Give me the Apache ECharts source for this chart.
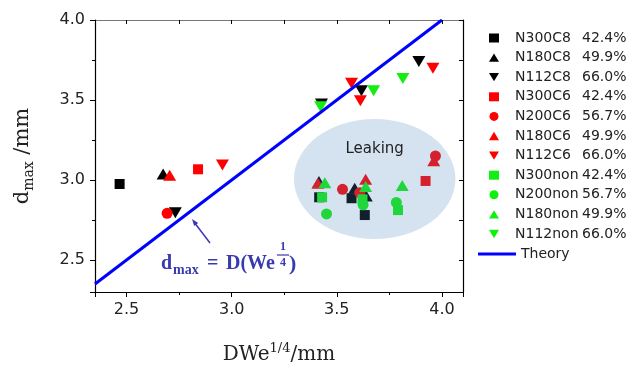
<!DOCTYPE html>
<html><head><meta charset="utf-8">
<script src="https://cdn.jsdelivr.net/npm/echarts@6/dist/echarts.min.js"></script>
<style>html,body{margin:0;padding:0;background:#fff}#c{width:633px;height:367px}</style>
</head><body><div id="c"></div>
<script>
// ---- data ----
const seriesNames = ['N300C8','N180C8','N112C8','N300C6','N200C6','N180C6','N112C6','N300non','N200non','N180non','N112non'];
const seriesPct   = ['42.4%','49.9%','66.0%','42.4%','56.7%','49.9%','66.0%','42.4%','56.7%','49.9%','66.0%'];
const n300c8  = [[2.467,2.975],[3.416,2.892],[3.570,2.886],[3.633,2.781]];
const n180c8  = [[2.674,3.037],[3.415,2.990],[3.585,2.948],[3.640,2.900]];
const n112c8  = [[2.732,2.796],[3.427,3.475],[3.617,3.558],[3.890,3.740]];
const n300c6  = [[2.840,3.067],[3.922,2.994]];
const n200c6  = [[2.693,2.792],[3.527,2.942],[3.609,2.921],[3.969,3.150]];
const n180c6  = [[2.705,3.030],[3.410,2.980],[3.637,3.004],[3.961,3.121]];
const n112c6  = [[2.956,3.094],[3.570,3.604],[3.612,3.496],[3.957,3.698]];
const n300non = [[3.430,2.892],[3.622,2.879],[3.791,2.812]];
const n200non = [[3.451,2.788],[3.625,2.845],[3.783,2.860]];
const n180non = [[3.443,2.983],[3.637,2.960],[3.811,2.965]];
const n112non = [[3.423,3.458],[3.675,3.558],[3.814,3.635]];
const theory  = [[2.35,2.35],[4.0,4.0]];
const xTicks = [2.5,3.0,3.5,4.0];
const yTicks = [2.5,3.0,3.5,4.0];
const leakCenter = [[3.68,3.006]];
const leakRadius = [0.384,0.375];

const seriesData = [n300c8,n180c8,n112c8,n300c6,n200c6,n180c6,n112c6,n300non,n200non,n180non,n112non];
const BLACK='#000000', RED='#ff0000', GREEN='#11ee11';
const seriesColor = [BLACK,BLACK,BLACK,RED,RED,RED,RED,GREEN,GREEN,GREEN,GREEN];
const seriesSym = ['rect','triangle','down','rect','circle','triangle','down','rect','circle','triangle','down'];
const DOWN_PATH = 'path://M0,0L12,0L6,10Z';
const UP_PATH = 'path://M6,0L12,10L0,10Z';

const chart = echarts.init(document.getElementById('c'));
const sans = 'DejaVu Sans', serif = 'DejaVu Serif';
const TXT = '#222';

const scatter = seriesData.map((d,i)=>{
  const s = seriesSym[i];
  return {
    name: seriesNames[i], type:'scatter', data:d, z:2,
    symbol: s==='down' ? DOWN_PATH : (s==='triangle' ? UP_PATH : s),
    symbolKeepAspect:false,
    symbolSize: s==='rect' ? 10 : (s==='circle' ? 11 : [13,11]),
    itemStyle:{color:seriesColor[i], opacity:1}
  };
});

const legendIcons = seriesSym.map(s => s==='down' ? DOWN_PATH : (s==='triangle' ? UP_PATH : s));

const baseAxis = {
  axisLine:{show:true, onZero:false, lineStyle:{color:'#000', width:1.2}},
  splitLine:{show:false}
};

const option = {
  animation:false,
  grid:{left:95, top:20, width:368, height:272, containLabel:false, outerBoundsMode:'none'},
  xAxis:[
    Object.assign({}, baseAxis, {type:'value', min:2.35, max:4.1, splitNumber:3, position:'bottom',
      axisTick:{show:true, length:5, lineStyle:{color:'#000', width:1}},
      minorTick:{show:true, splitNumber:2, length:3, lineStyle:{color:'#000', width:1}},
      axisLabel:{customValues:xTicks, formatter:v=>v.toFixed(1), margin:10, fontFamily:sans, fontSize:16, color:TXT},
      name:'{a|DWe}{s|1/4}{a|/mm}', nameLocation:'middle', nameGap:50,
      nameTextStyle:{rich:{a:{fontFamily:serif, fontSize:20, color:TXT, lineHeight:26}, s:{fontFamily:serif, fontSize:13, color:TXT, lineHeight:13, verticalAlign:'top'}}}
    }),
    Object.assign({}, baseAxis, {type:'value', min:2.35, max:4.1, splitNumber:3, position:'top',
      axisLine:{show:true, onZero:false, lineStyle:{color:'#777', width:1.2}},
      axisTick:{show:true, inside:true, length:4, lineStyle:{color:'#000', width:1}},
      minorTick:{show:true, splitNumber:2, length:4, lineStyle:{color:'#000', width:1}},
      axisLabel:{show:false}
    })
  ],
  yAxis:[
    Object.assign({}, baseAxis, {type:'value', min:2.3, max:4.0, splitNumber:3, position:'left',
      axisTick:{show:true, length:5, lineStyle:{color:'#000', width:1}},
      minorTick:{show:true, splitNumber:2, length:3, lineStyle:{color:'#000', width:1}},
      axisLabel:{customValues:yTicks, formatter:v=>v.toFixed(1), margin:10, fontFamily:sans, fontSize:16, color:TXT},
      name:'{a|d}{s|max}{a| /mm}', nameLocation:'middle', nameGap:59, nameRotate:90,
      nameTextStyle:{rich:{a:{fontFamily:serif, fontSize:21, color:TXT, lineHeight:26}, s:{fontFamily:serif, fontSize:14, color:TXT, lineHeight:14, verticalAlign:'bottom'}}}
    }),
    Object.assign({}, baseAxis, {type:'value', min:2.3, max:4.0, splitNumber:3, position:'right',
      axisTick:{show:true, inside:true, length:4, lineStyle:{color:'#000', width:1}},
      minorTick:{show:true, splitNumber:2, length:4, lineStyle:{color:'#000', width:1}},
      axisLabel:{show:false}
    })
  ],
  legend:[
    {data:seriesNames.map((n,i)=>({name:n, icon:legendIcons[i]})), orient:'vertical', left:484, top:26, itemWidth:10, itemHeight:9, itemGap:5.6,
     formatter: name => '{s| }{a|' + name + '}{b|' + seriesPct[seriesNames.indexOf(name)] + '}',
     textStyle:{fontFamily:sans, fontSize:14, color:TXT, lineHeight:14,
       rich:{s:{width:11}, a:{width:67, fontFamily:sans, fontSize:14, color:TXT}, b:{fontFamily:sans, fontSize:14, color:TXT}}}},
    {data:[{name:'Theory', icon:'rect'}], orient:'vertical', left:473, top:242, itemWidth:38, itemHeight:3,
     textStyle:{fontFamily:sans, fontSize:14, color:TXT, lineHeight:14}}
  ],
  series: [
    {name:'Theory', type:'line', data:theory, showSymbol:false, symbol:'none', z:3,
     lineStyle:{color:'#0000ff', width:3}, itemStyle:{color:'#0000ff'}}
  ].concat(scatter).concat([
    {name:'Leaking', type:'custom', data:leakCenter, z:10, silent:true,
     renderItem:(params, api)=>{
       const c = api.coord([api.value(0), api.value(1)]);
       const s = api.size([leakRadius[0], leakRadius[1]]);
       return {type:'group', children:[
         {type:'ellipse', shape:{cx:c[0], cy:c[1], rx:s[0], ry:s[1]}, style:{fill:'rgba(77,136,196,0.235)'}},
         {type:'text', x:c[0], y:c[1]-30, style:{text:'Leaking', align:'center', verticalAlign:'middle', fontFamily:sans, fontSize:15, fill:TXT}}
       ]};
     }}
  ]),
  graphic:[
    {type:'text', x:161, y:264, style:{text:'d', fontFamily:'Liberation Serif', fontWeight:'bold', fontSize:20, fill:'#3a3ab0', verticalAlign:'middle'}},
    {type:'text', x:173, y:270, style:{text:'max', fontFamily:'Liberation Serif', fontWeight:'bold', fontSize:14, fill:'#3a3ab0', verticalAlign:'middle'}},
    {type:'text', x:207, y:264, style:{text:'=', fontFamily:'Liberation Serif', fontWeight:'bold', fontSize:20, fill:'#3a3ab0', verticalAlign:'middle'}},
    {type:'text', x:226, y:264, style:{text:'D(We', fontFamily:'Liberation Serif', fontWeight:'bold', fontSize:20, fill:'#3a3ab0', verticalAlign:'middle'}},
    {type:'text', x:283, y:247, style:{text:'1', fontFamily:'Liberation Serif', fontWeight:'bold', fontSize:12, fill:'#3a3ab0', align:'center', verticalAlign:'middle'}},
    {type:'line', shape:{x1:277, y1:255, x2:289, y2:255}, style:{stroke:'#3a3ab0', lineWidth:1.2}},
    {type:'text', x:283, y:263, style:{text:'4', fontFamily:'Liberation Serif', fontWeight:'bold', fontSize:12, fill:'#3a3ab0', align:'center', verticalAlign:'middle'}},
    {type:'text', x:289, y:264, style:{text:')', fontFamily:'Liberation Serif', fontWeight:'bold', fontSize:22, fill:'#3a3ab0', verticalAlign:'middle'}},
    {type:'line', shape:{x1:210, y1:243, x2:194, y2:222}, style:{stroke:'#3a3ab0', lineWidth:1.5}},
    {type:'polygon', shape:{points:[[192,219],[198.2,223.1],[194.2,226.1]]}, style:{fill:'#3a3ab0'}}
  ]
};
chart.setOption(option);
</script>
</body></html>
